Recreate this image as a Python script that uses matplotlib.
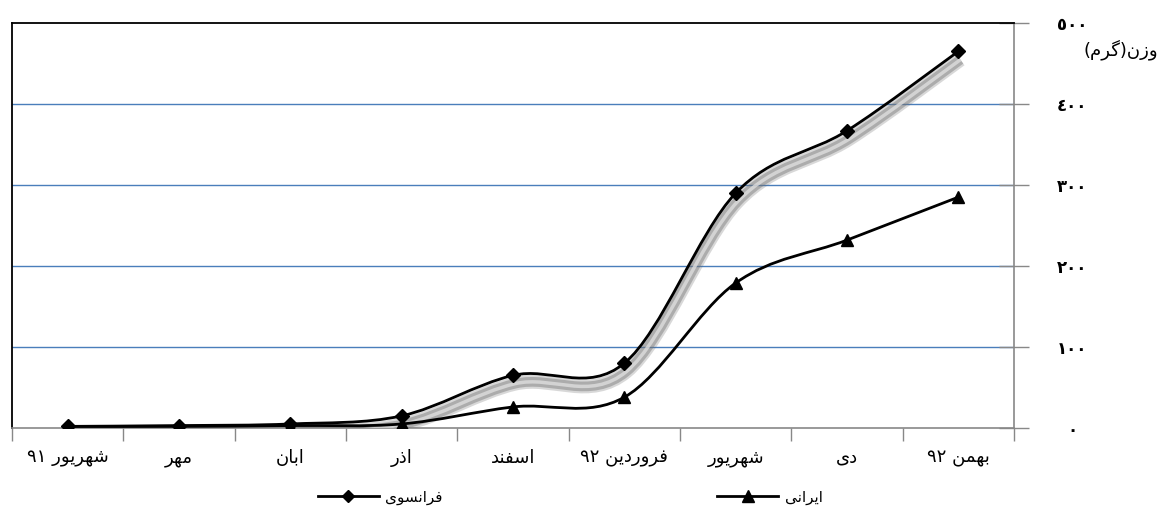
import re
import matplotlib
matplotlib.use("Agg")
import matplotlib.pyplot as plt
import matplotlib.patheffects as pe
from matplotlib.lines import Line2D
from matplotlib.path import Path
from matplotlib.patches import PathPatch

months = ["شهریور ٩١", "مهر", "ابان", "اذر", "اسفند", "فروردین ٩٢", "شهریور", "دی", "بهمن ٩٢"]
french = [2, 3, 5, 15, 65, 80, 290, 367, 465]
iranian = [2, 2, 3, 5, 26, 38, 179, 232, 285]
yticks = [0, 100, 200, 300, 400, 500]
ytick_labels = ["٠", "١٠٠", "٢٠٠", "٣٠٠", "٤٠٠", "٥٠٠"]
ylabel = "وزن(گرم)"
names = ["فرانسوی", "ایرانی"]

# presentation forms: isolated, final, initial, medial
FORMS = {
    "ا": (0xFE8D, 0xFE8E, None, None),
    "ب": (0xFE8F, 0xFE90, 0xFE91, 0xFE92),
    "د": (0xFEA9, 0xFEAA, None, None),
    "ذ": (0xFEAB, 0xFEAC, None, None),
    "ر": (0xFEAD, 0xFEAE, None, None),
    "ز": (0xFEAF, 0xFEB0, None, None),
    "س": (0xFEB1, 0xFEB2, 0xFEB3, 0xFEB4),
    "ش": (0xFEB5, 0xFEB6, 0xFEB7, 0xFEB8),
    "ف": (0xFED1, 0xFED2, 0xFED3, 0xFED4),
    "م": (0xFEE1, 0xFEE2, 0xFEE3, 0xFEE4),
    "ن": (0xFEE5, 0xFEE6, 0xFEE7, 0xFEE8),
    "ه": (0xFEE9, 0xFEEA, 0xFEEB, 0xFEEC),
    "و": (0xFEED, 0xFEEE, None, None),
    "ی": (0xFBFC, 0xFBFD, 0xFBFE, 0xFBFF),
    "گ": (0xFB92, 0xFB93, 0xFB94, 0xFB95),
}


def rtl(s):
    # shape the letters and put them in visual order
    out = []
    for i, c in enumerate(s):
        f = FORMS.get(c)
        if f is None:
            out.append(c)
            continue
        prev = s[i - 1] if i > 0 else ""
        nxt = s[i + 1] if i + 1 < len(s) else ""
        jp = prev in FORMS and FORMS[prev][2] is not None
        jn = f[2] is not None and nxt in FORMS
        idx = 3 if jp and jn else 1 if jp else 2 if jn else 0
        out.append(chr(f[idx]))
    vis = "".join(out)[::-1]
    vis = re.sub("[٠-٩]+", lambda m: m.group(0)[::-1], vis)
    return vis.translate(str.maketrans("()", ")("))


def smooth_path(xs, ys):
    # excel-like smoothed line as bezier segments
    pts = list(zip(xs, ys))
    verts = [pts[0]]
    codes = [Path.MOVETO]
    n = len(pts)
    for i in range(n - 1):
        p0 = pts[max(i - 1, 0)]
        p1 = pts[i]
        p2 = pts[i + 1]
        p3 = pts[min(i + 2, n - 1)]
        c1 = (p1[0] + (p2[0] - p0[0]) / 6, p1[1] + (p2[1] - p0[1]) / 6)
        c2 = (p2[0] - (p3[0] - p1[0]) / 6, p2[1] - (p3[1] - p1[1]) / 6)
        verts += [c1, c2, p2]
        codes += [Path.CURVE4] * 3
    return Path(verts, codes)


plt.rcParams["font.family"] = ["DejaVu Sans"]

fig = plt.figure(figsize=(11.7, 5.28), dpi=100)
ax = fig.add_axes([12 / 1170, 1 - 428 / 528, (1014 - 12) / 1170, (428 - 23) / 528])

x = list(range(len(months)))
ax.set_xlim(-0.5, len(months) - 0.5)
ax.set_ylim(0, 500)

for v in yticks[1:-1]:
    ax.axhline(v, color="#4a7ebb", lw=1, zorder=1)

# soft grey "tube" shadow under the french line
shadow = [
    pe.SimpleLineShadow(offset=(1.5, -6), shadow_color="#666666", alpha=0.25, linewidth=10),
    pe.SimpleLineShadow(offset=(1.5, -6), shadow_color="#777777", alpha=0.45, linewidth=7),
    pe.SimpleLineShadow(offset=(1.5, -6), shadow_color="#dddddd", alpha=0.8, linewidth=2.5),
    pe.Normal(),
]
ax.add_patch(PathPatch(smooth_path(x, french), fill=False, ec="black", lw=2,
                       path_effects=shadow, zorder=3))
ax.add_patch(PathPatch(smooth_path(x, iranian), fill=False, ec="black", lw=2, zorder=3))
ax.plot(x, french, ls="none", marker="D", ms=7, color="black", zorder=4)
ax.plot(x, iranian, ls="none", marker="^", ms=9, color="black", zorder=4)

for side in ["top", "left"]:
    ax.spines[side].set_color("black")
    ax.spines[side].set_linewidth(1.3)
for side in ["bottom", "right"]:
    ax.spines[side].set_color("#888888")
    ax.spines[side].set_linewidth(1.2)

ax.yaxis.tick_right()
ax.set_yticks(yticks)
ax.set_yticklabels(ytick_labels, fontsize=12, fontweight="bold")
ax.tick_params(axis="y", direction="inout", length=22, width=1, color="#888888", pad=31)
for lbl in ax.get_yticklabels():
    lbl.set_horizontalalignment("center")

ax.set_xticks(x)
ax.set_xticklabels([rtl(m) for m in months], fontsize=13)
ax.tick_params(axis="x", length=0, pad=15)
ax.set_xticks([i - 0.5 for i in range(len(months) + 1)], minor=True)
ax.tick_params(axis="x", which="minor", length=9, width=1, color="#888888")

fig.text(1121 / 1170, 1 - 50 / 528, rtl(ylabel), fontsize=13, ha="center", va="center")

handles = [
    Line2D([], [], color="black", lw=2, marker="D", ms=6),
    Line2D([], [], color="black", lw=2, marker="^", ms=8),
]
fig.legend(handles, [rtl(n) for n in names], ncol=2, frameon=False, fontsize=11,
           handlelength=4, columnspacing=18, handletextpad=0.4,
           loc="center", bbox_to_anchor=(570 / 1170, 1 - 497 / 528))

fig.savefig("out.png", dpi=100)
